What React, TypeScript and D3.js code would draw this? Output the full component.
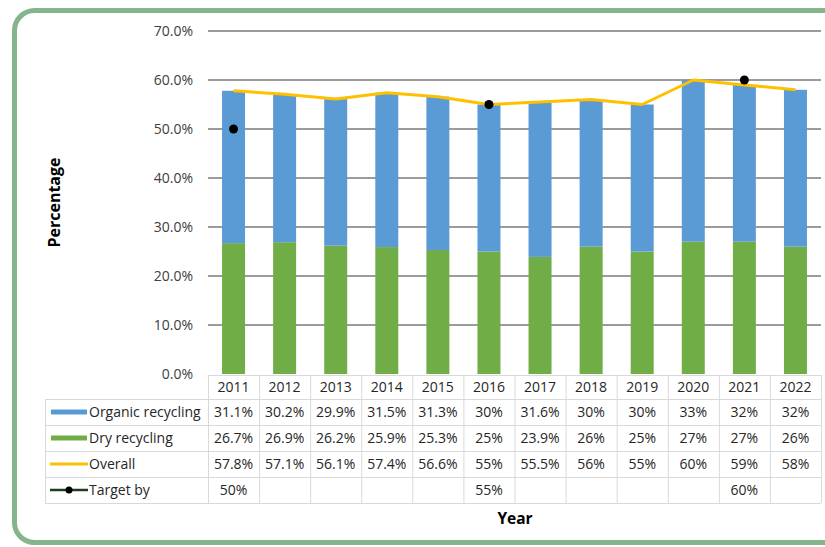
import { useEffect, useRef } from "react";
import * as d3 from "d3";

const years = ["2011", "2012", "2013", "2014", "2015", "2016", "2017", "2018", "2019", "2020", "2021", "2022"];
const organic = [31.1, 30.2, 29.9, 31.5, 31.3, 30, 31.6, 30, 30, 33, 32, 32];
const dry = [26.7, 26.9, 26.2, 25.9, 25.3, 25, 23.9, 26, 25, 27, 27, 26];
const overall = [57.8, 57.1, 56.1, 57.4, 56.6, 55, 55.5, 56, 55, 60, 59, 58];
const target: (number | null)[] = [50, null, null, null, null, 55, null, null, null, null, 60, null];
const organicLabels = ["31.1%", "30.2%", "29.9%", "31.5%", "31.3%", "30%", "31.6%", "30%", "30%", "33%", "32%", "32%"];
const dryLabels = ["26.7%", "26.9%", "26.2%", "25.9%", "25.3%", "25%", "23.9%", "26%", "25%", "27%", "27%", "26%"];
const overallLabels = ["57.8%", "57.1%", "56.1%", "57.4%", "56.6%", "55%", "55.5%", "56%", "55%", "60%", "59%", "58%"];
const targetLabels = ["50%", "", "", "", "", "55%", "", "", "", "", "60%", ""];
const yTicks = [0, 10, 20, 30, 40, 50, 60, 70];

const BLUE = "#5b9bd5";
const GREEN = "#70ad47";
const GOLD = "#ffc000";
const FONT = "'Open Sans', sans-serif";

const App = () => {
  const svgRef = useRef<SVGSVGElement | null>(null);
  const width = 825;
  const height = 547;
  const plot = { left: 208, right: 821, top: 31, bottom: 374 };

  useEffect(() => {
    if (!svgRef.current) return;
    const svg = d3.select(svgRef.current);
    svg.selectAll("*").remove();

    // rounded green frame
    svg
      .append("rect")
      .attr("x", 14.5)
      .attr("y", 10.5)
      .attr("width", 840)
      .attr("height", 532)
      .attr("rx", 20)
      .attr("fill", "#fff")
      .attr("stroke", "#86b48c")
      .attr("stroke-width", 5);

    const x = d3.scaleBand().domain(years).range([plot.left, plot.right]).paddingInner(0).paddingOuter(0);
    const y = d3.scaleLinear().domain([0, 70]).range([plot.bottom, plot.top]);
    const barW = x.bandwidth() * 0.45;
    const cx = (d: string) => (x(d) as number) + x.bandwidth() / 2;

    // gridlines
    svg
      .append("g")
      .selectAll("line")
      .data(yTicks.filter((t) => t > 0))
      .enter()
      .append("line")
      .attr("x1", plot.left)
      .attr("x2", plot.right)
      .attr("y1", (d) => y(d))
      .attr("y2", (d) => y(d))
      .attr("stroke", "#7a7a7a")
      .attr("stroke-width", 1.5);

    // y labels
    svg
      .append("g")
      .selectAll("text")
      .data(yTicks)
      .enter()
      .append("text")
      .attr("x", 193)
      .attr("y", (d) => y(d))
      .attr("dy", "0.35em")
      .attr("text-anchor", "end")
      .attr("font-family", FONT)
      .attr("font-size", 14)
      .attr("fill", "#404040")
      .text((d) => d3.format(".1f")(d) + "%");

    // stacked bars
    const bars = svg.append("g");
    years.forEach((yr, i) => {
      bars
        .append("rect")
        .attr("x", cx(yr) - barW / 2)
        .attr("y", y(dry[i]))
        .attr("width", barW)
        .attr("height", y(0) - y(dry[i]))
        .attr("fill", GREEN);
      bars
        .append("rect")
        .attr("x", cx(yr) - barW / 2)
        .attr("y", y(dry[i] + organic[i]))
        .attr("width", barW)
        .attr("height", y(dry[i]) - y(dry[i] + organic[i]))
        .attr("fill", BLUE);
    });

    // overall line
    const line = d3
      .line<number>()
      .x((_d, i) => cx(years[i]))
      .y((d) => y(d));
    svg
      .append("path")
      .datum(overall)
      .attr("d", line)
      .attr("fill", "none")
      .attr("stroke", GOLD)
      .attr("stroke-width", 3)
      .attr("stroke-linejoin", "round");

    // target dots
    svg
      .append("g")
      .selectAll("circle")
      .data(years.map((yr, i) => ({ yr, v: target[i] })).filter((d) => d.v !== null))
      .enter()
      .append("circle")
      .attr("cx", (d) => cx(d.yr))
      .attr("cy", (d) => y(d.v as number))
      .attr("r", 4.5)
      .attr("fill", "#000");

    // data table
    const rowTops = [375, 399, 425, 451, 477, 503];
    const tableLeft = 45;
    const grid = svg.append("g").attr("stroke", "#d9d9d9").attr("stroke-width", 1);
    rowTops.forEach((ty, i) => {
      grid
        .append("line")
        .attr("x1", i === 0 ? plot.left : tableLeft)
        .attr("x2", plot.right)
        .attr("y1", ty + 0.5)
        .attr("y2", ty + 0.5);
    });
    const vx = years.map((yr) => x(yr) as number).concat([plot.right]);
    vx.forEach((vv) => {
      grid
        .append("line")
        .attr("x1", vv + 0.5)
        .attr("x2", vv + 0.5)
        .attr("y1", rowTops[0])
        .attr("y2", rowTops[5]);
    });
    grid
      .append("line")
      .attr("x1", tableLeft + 0.5)
      .attr("x2", tableLeft + 0.5)
      .attr("y1", rowTops[1])
      .attr("y2", rowTops[5]);

    const rows = [years, organicLabels, dryLabels, overallLabels, targetLabels];
    const cells = svg.append("g").attr("font-family", FONT).attr("font-size", 14).attr("fill", "#262626");
    rows.forEach((row, r) => {
      row.forEach((txt, i) => {
        cells
          .append("text")
          .attr("x", cx(years[i]))
          .attr("y", (rowTops[r] + rowTops[r + 1]) / 2)
          .attr("dy", "0.36em")
          .attr("text-anchor", "middle")
          .text(txt);
      });
    });

    // legend keys
    const seriesNames = ["Organic recycling", "Dry recycling", "Overall", "Target by"];
    seriesNames.forEach((name, k) => {
      const my = (rowTops[k + 1] + rowTops[k + 2]) / 2;
      if (k < 2) {
        svg
          .append("rect")
          .attr("x", 51)
          .attr("y", my - 2.5)
          .attr("width", 36)
          .attr("height", 5)
          .attr("fill", k === 0 ? BLUE : GREEN);
      } else if (k === 2) {
        svg.append("line").attr("x1", 50).attr("x2", 88).attr("y1", my).attr("y2", my).attr("stroke", GOLD).attr("stroke-width", 3);
      } else {
        svg.append("line").attr("x1", 50).attr("x2", 88).attr("y1", my).attr("y2", my).attr("stroke", "#1e3d1e").attr("stroke-width", 2.5);
        svg.append("circle").attr("cx", 69).attr("cy", my).attr("r", 3.5).attr("fill", "#000");
      }
      cells
        .append("text")
        .attr("x", 89)
        .attr("y", my)
        .attr("dy", "0.36em")
        .text(name);
    });

    // axis titles
    svg
      .append("text")
      .attr("transform", `translate(60,${(plot.top + plot.bottom) / 2}) rotate(-90)`)
      .attr("text-anchor", "middle")
      .attr("font-family", FONT)
      .attr("font-size", 16)
      .attr("font-weight", "bold")
      .attr("fill", "#000")
      .text("Percentage");
    svg
      .append("text")
      .attr("x", 515)
      .attr("y", 524)
      .attr("text-anchor", "middle")
      .attr("font-family", FONT)
      .attr("font-size", 15.5)
      .attr("font-weight", "bold")
      .attr("fill", "#000")
      .text("Year");
  }, []);

  return (
    <svg
      ref={svgRef}
      width={width}
      height={height}
      style={{ position: "absolute", left: 0, top: 0, background: "#fff" }}
    />
  );
};

export default App;
